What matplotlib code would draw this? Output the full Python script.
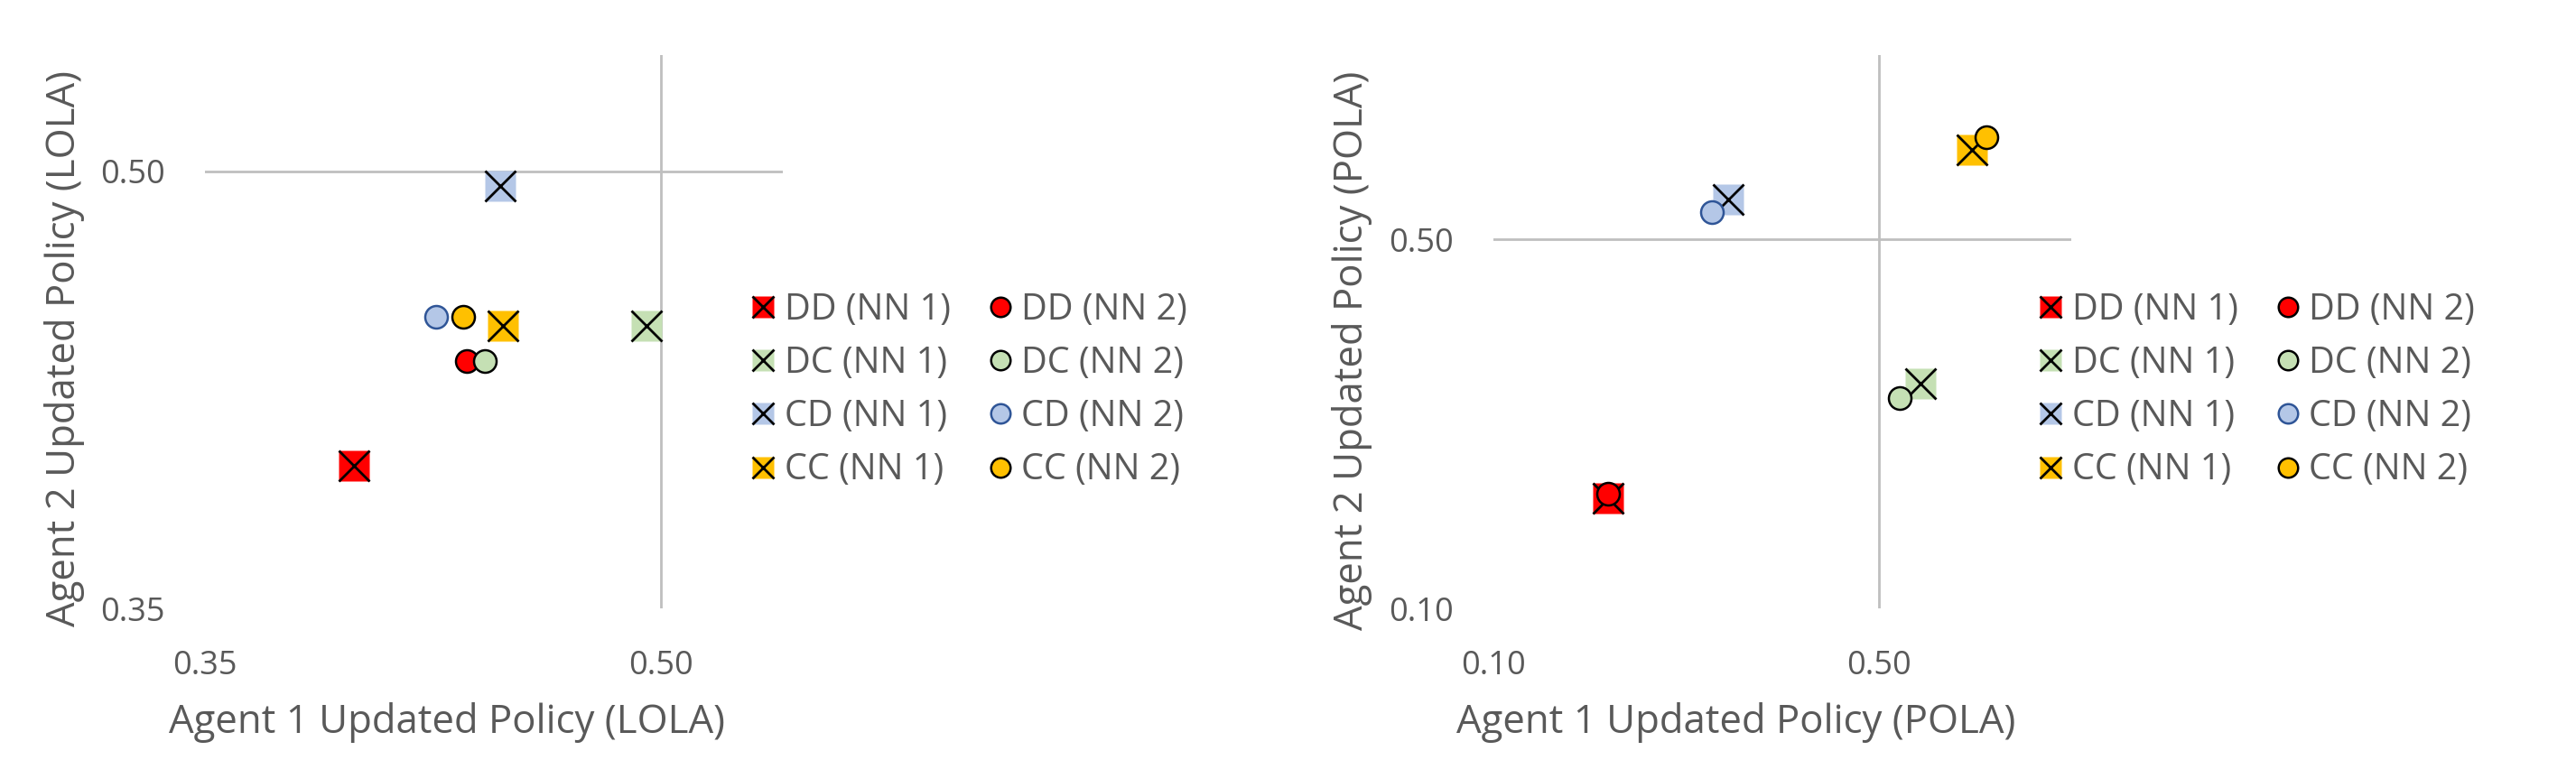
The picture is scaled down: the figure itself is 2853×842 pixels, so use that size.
import numpy as np
import matplotlib.pyplot as plt
from matplotlib.lines import Line2D

plt.rcParams['font.family'] = ['Open Sans', 'DejaVu Sans']

W, H = 2853, 842
GREY = '#595959'
AXLINE = '#BFBFBF'

names = ['DD', 'DC', 'CD', 'CC']
colors = ['#FF0000', '#C5E0B4', '#B4C7E7', '#FFC000']
circle_edges = ['black', 'black', '#2F5597', 'black']

# LOLA panel (NN 1 = squares, NN 2 = circles)
lola_x1 = [0.399, 0.495, 0.447, 0.448]
lola_y1 = [0.399, 0.447, 0.495, 0.447]
lola_x2 = [0.436, 0.442, 0.426, 0.435]
lola_y2 = [0.435, 0.435, 0.450, 0.450]
lola_lim = (0.35, 0.54)
lola_ticks = [0.35, 0.50]

# POLA panel
pola_x1 = [0.219, 0.543, 0.344, 0.597]
pola_y1 = [0.219, 0.344, 0.543, 0.597]
pola_x2 = [0.219, 0.522, 0.327, 0.612]
pola_y2 = [0.224, 0.328, 0.529, 0.611]
pola_lim = (0.10, 0.70)
pola_ticks = [0.10, 0.50]


def px(x0, y0, w, h):
    # pixel box (from top-left) -> figure fraction
    return [x0 / W, 1 - (y0 + h) / H, w / W, h / H]


def panel(ax, x1, y1, x2, y2, lim, ticks):
    for s in ax.spines.values():
        s.set_visible(False)
    ax.set_xlim(lim)
    ax.set_ylim(lim)
    ax.axhline(0.5, color=AXLINE, lw=2, zorder=1)
    ax.axvline(0.5, color=AXLINE, lw=2, zorder=1)
    ax.set_xticks(ticks)
    ax.set_yticks(ticks)
    ax.set_xticklabels(['%.2f' % t for t in ticks])
    ax.set_yticklabels(['%.2f' % t for t in ticks])
    ax.tick_params(axis='x', length=0, pad=33, labelsize=26, labelcolor=GREY)
    ax.tick_params(axis='y', length=0, pad=32, labelsize=26, labelcolor=GREY)

    z = 3
    for i in range(4):
        ax.plot(x1[i], y1[i], 's', ms=25, mfc=colors[i], mec='none', zorder=z)
        ax.plot(x1[i], y1[i], 'x', ms=25, mew=2, color='black', zorder=z + 0.5)
        z += 1
    for i in range(4):
        ax.plot(x2[i], y2[i], 'o', ms=18, mfc=colors[i], mec=circle_edges[i],
                mew=1.8, zorder=z)
        z += 1

    handles = []
    for i in range(4):
        sq = Line2D([], [], ls='none', marker='s', ms=17.6, mfc=colors[i], mec='none')
        xx = Line2D([], [], ls='none', marker='x', ms=17.6, mew=2, color='black')
        handles.append((sq, xx))
    for i in range(4):
        handles.append(Line2D([], [], ls='none', marker='o', ms=15.5, mfc=colors[i],
                              mec=circle_edges[i], mew=1.8))
    labels = [n + ' (NN 1)' for n in names] + [n + ' (NN 2)' for n in names]
    return handles, labels


fig = plt.figure(figsize=(W / 100, H / 100), dpi=100)

ax1 = fig.add_axes(px(227, 60.7, 640.3, 613.3))
h, l = panel(ax1, lola_x1, lola_y1, lola_x2, lola_y2, lola_lim, lola_ticks)
fig.legend(h, l, ncol=2, loc='center left', bbox_to_anchor=(831.4 / W, 1 - 432.5 / H),
           frameon=False, fontsize=28.5, labelcolor=GREY, handlelength=0.7,
           handletextpad=0.24, columnspacing=1.04, labelspacing=0.47,
           borderpad=0, borderaxespad=0)
fig.text(495 / W, 1 - 811.7 / H, 'Agent 1 Updated Policy (LOLA)', ha='center',
         va='baseline', fontsize=31.5, color=GREY)
fig.text(72 / W, 1 - 386.5 / H, 'Agent 2 Updated Policy (LOLA)', ha='center',
         va='center', rotation=90, fontsize=31.5, color=GREY)

ax2 = fig.add_axes(px(1654, 60.7, 640, 613.3))
h, l = panel(ax2, pola_x1, pola_y1, pola_x2, pola_y2, pola_lim, pola_ticks)
fig.legend(h, l, ncol=2, loc='center left', bbox_to_anchor=(2257.6 / W, 1 - 432.5 / H),
           frameon=False, fontsize=28.5, labelcolor=GREY, handlelength=0.7,
           handletextpad=0.24, columnspacing=1.04, labelspacing=0.47,
           borderpad=0, borderaxespad=0)
fig.text(1923 / W, 1 - 811.7 / H, 'Agent 1 Updated Policy (POLA)', ha='center',
         va='baseline', fontsize=31.5, color=GREY)
fig.text(1498 / W, 1 - 388 / H, 'Agent 2 Updated Policy (POLA)', ha='center',
         va='center', rotation=90, fontsize=31.5, color=GREY)

fig.savefig('out.png', dpi=100, facecolor='white')
